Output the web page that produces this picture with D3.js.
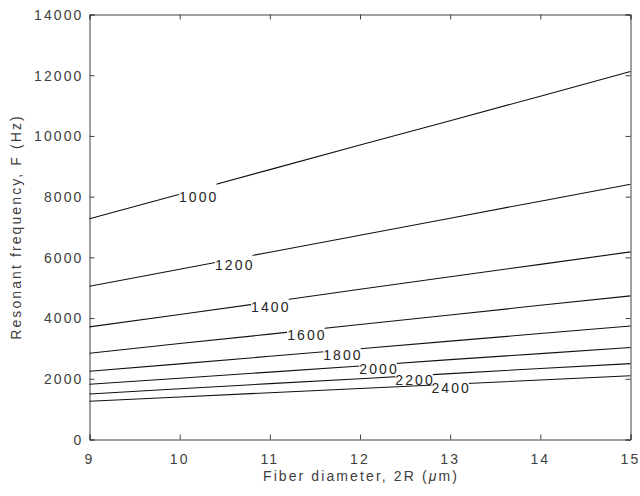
<!DOCTYPE html>
<html>
<head>
<meta charset="utf-8">
<script src="https://cdn.jsdelivr.net/npm/d3@7"></script>
<style>
  body { margin: 0; background: #fff; }
  svg text { font-family: "Liberation Sans", Arial, sans-serif; font-size: 14px; letter-spacing: 2.1px; }
</style>
</head>
<body>
<div id="chart"></div>
<script>
// fiber diameter samples (x) and resonant frequency per contour level
const diameters = [9, 10, 11, 12, 13, 14, 15]
const levels = [1000, 1200, 1400, 1600, 1800, 2000, 2200, 2400]
const f1000 = [7270, 8080, 8890, 9700, 10500, 11310, 12120]
const f1200 = [5050, 5610, 6170, 6730, 7290, 7850, 8410]
const f1400 = [3710, 4120, 4530, 4950, 5360, 5770, 6180]
const f1600 = [2840, 3160, 3470, 3790, 4100, 4420, 4730]
const f1800 = [2250, 2490, 2740, 2990, 3240, 3490, 3740]
const f2000 = [1820, 2020, 2220, 2420, 2630, 2830, 3030]
const f2200 = [1500, 1670, 1840, 2000, 2170, 2340, 2500]
const f2400 = [1260, 1400, 1540, 1680, 1820, 1960, 2100]
// where each level's label sits along the diameter axis
const labelAt = [10.2, 10.6, 11.0, 11.4, 11.8, 12.2, 12.6, 13.0]
const xTicks = [9, 10, 11, 12, 13, 14, 15]
const yTicks = [0, 2000, 4000, 6000, 8000, 10000, 12000, 14000]

const series = [f1000, f1200, f1400, f1600, f1800, f2000, f2200, f2400]

const margin = { top: 14.5, right: 9.5, bottom: 56.5, left: 89.5 }
const width = 640 - margin.left - margin.right
const height = 496 - margin.top - margin.bottom
const axisColor = "#404040"

const svg = d3.select("#chart").append("svg")
    .attr("width", 640)
    .attr("height", 496)

const g = svg.append("g")
    .attr("transform", "translate(" + margin.left + "," + margin.top + ")")

const x = d3.scaleLinear().domain([9, 15]).range([0, width])
const y = d3.scaleLinear().domain([0, 14000]).range([height, 0])

// axes (MATLAB style: ticks point inward, box on)
const tickLen = 5
g.append("g").attr("class", "x-axis")
    .attr("transform", "translate(0," + height + ")")
    .call(d3.axisBottom(x).tickValues(xTicks).tickSize(-tickLen).tickPadding(12).tickFormat(d3.format("d")))
g.append("g").attr("class", "x-axis-top")
    .call(d3.axisTop(x).tickValues(xTicks).tickSize(-tickLen).tickFormat(""))
g.append("g").attr("class", "y-axis")
    .call(d3.axisLeft(y).tickValues(yTicks).tickSize(-tickLen).tickPadding(6).tickFormat(d3.format("d")))
g.append("g").attr("class", "y-axis-right")
    .attr("transform", "translate(" + width + ",0)")
    .call(d3.axisRight(y).tickValues(yTicks).tickSize(-tickLen).tickFormat(""))

g.selectAll(".domain").attr("stroke", axisColor)
g.selectAll(".tick line").attr("stroke", axisColor)
g.selectAll(".tick text").attr("fill", axisColor).style("font-size", "14px").style("font-family", null)
g.select(".x-axis").selectAll(".tick text").attr("dy", "0.9em").attr("dx", "-0.5px")
g.select(".y-axis").selectAll(".tick text").attr("dy", "0.35em")

// axis titles
const xTitle = g.append("text")
    .attr("x", width / 2 + 1)
    .attr("y", height + 41)
    .attr("text-anchor", "middle")
    .attr("fill", axisColor)
xTitle.append("tspan").text("Fiber diameter, 2R (")
xTitle.append("tspan").attr("font-style", "italic").text("\u03bc")
xTitle.append("tspan").text("m)")

g.append("text")
    .attr("transform", "translate(" + (-margin.left + 21) + "," + height / 2 + ") rotate(-90)")
    .attr("text-anchor", "middle")
    .attr("fill", axisColor)
    .text("Resonant frequency, F (Hz)")

// contour lines with inline labels
const line = d3.line()
    .x((d, i) => x(diameters[i]))
    .y(d => y(d))

const defs = svg.append("defs")

series.forEach((vals, k) => {
    // label position on the line
    const lx = labelAt[k]
    const i0 = Math.floor(lx) - diameters[0]
    const t = lx - Math.floor(lx)
    const fv = vals[i0] + (vals[i0 + 1] - vals[i0]) * t
    const px = x(lx)
    const py = y(fv)
    const slope = (y(vals[i0]) - y(vals[i0 + 1])) / (x(diameters[i0 + 1]) - x(diameters[i0]))

    const label = g.append("text")
        .attr("class", "contour-label")
        .attr("x", px + 1)
        .attr("y", py + 8 + 16 * slope)
        .attr("text-anchor", "middle")
        .attr("fill", "#262626")
        .text(levels[k])

    const bb = label.node().getBBox()

    // cut the line where its label sits
    const mask = defs.append("mask").attr("id", "cut" + k)
        .attr("maskUnits", "userSpaceOnUse")
        .attr("x", -10).attr("y", -10).attr("width", width + 20).attr("height", height + 20)
    mask.append("rect").attr("x", -10).attr("y", -10)
        .attr("width", width + 20).attr("height", height + 20).attr("fill", "white")
    mask.append("rect").attr("x", bb.x).attr("y", -10)
        .attr("width", bb.width - 2).attr("height", height + 20).attr("fill", "black")

    g.insert("path", ".contour-label")
        .datum(vals)
        .attr("d", line)
        .attr("fill", "none")
        .attr("stroke", "#111")
        .attr("stroke-width", 1.1)
        .attr("mask", "url(#cut" + k + ")")
})
</script>
</body>
</html>
